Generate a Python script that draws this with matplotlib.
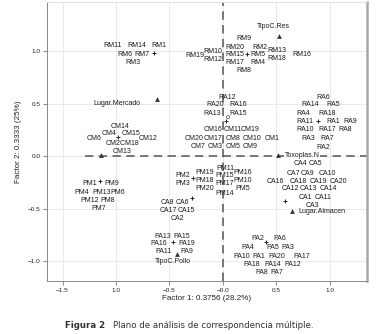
import matplotlib
matplotlib.use("Agg")
import matplotlib.pyplot as plt

# ---- category labels (text positions on factor plane) ----
rm_labels = ["RM11", "RM14", "RM1", "RM6", "RM7", "RM3",
             "RM9", "RM19", "RM10", "RM12", "RM20", "RM2", "RM15", "RM5",
             "RM13", "RM16", "RM17", "RM4", "RM18", "RM8"]
rm_x = [-1.028, -0.804, -0.598, -0.916, -0.757, -0.841,
        0.196, -0.262, -0.093, -0.093, 0.112, 0.346, 0.112, 0.327,
        0.505, 0.738, 0.112, 0.327, 0.505, 0.196]
rm_y = [1.057, 1.057, 1.057, 0.971, 0.971, 0.895,
        1.124, 0.962, 1.000, 0.924, 1.038, 1.038, 0.971, 0.971,
        1.010, 0.971, 0.895, 0.895, 0.933, 0.819]

cm_labels = ["CM14", "CM4", "CM15", "CM6", "CM2CM18", "CM12", "CM13",
             "CM16", "CM11", "CM19", "CM20", "CM17", "CM8", "CM10", "CM1",
             "CM7", "CM3", "CM5", "CM9"]
cm_x = [-0.963, -1.065, -0.860, -1.206, -0.935, -0.701, -0.944,
        -0.093, 0.093, 0.252, -0.271, -0.093, 0.093, 0.271, 0.458,
        -0.234, -0.075, 0.093, 0.252]
cm_y = [0.286, 0.219, 0.219, 0.171, 0.124, 0.171, 0.048,
        0.257, 0.257, 0.257, 0.171, 0.171, 0.171, 0.171, 0.171,
        0.095, 0.095, 0.095, 0.095]

ra_labels = ["RA12", "RA20", "RA16", "RA13", "RA15",
             "RA6", "RA14", "RA5", "RA4", "RA18", "RA11", "RA1", "RA9",
             "RA10", "RA17", "RA8", "RA3", "RA7", "RA2"]
ra_x = [0.037, -0.075, 0.140, -0.103, 0.140,
        0.935, 0.813, 1.028, 0.748, 0.972, 0.766, 1.028, 1.187,
        0.766, 0.972, 1.140, 0.794, 0.972, 0.935]
ra_y = [0.562, 0.495, 0.495, 0.410, 0.410,
        0.562, 0.495, 0.495, 0.410, 0.410, 0.333, 0.333, 0.333,
        0.257, 0.257, 0.257, 0.171, 0.171, 0.086]

pm_labels = ["PM1", "PM9", "PM4", "PM13", "PM6", "PM12", "PM8", "PM7",
             "PM2", "PM3", "PM19", "PM18", "PM20", "PM11", "PM15", "PM17",
             "PM14", "PM16", "PM10", "PM5"]
pm_x = [-1.243, -1.037, -1.318, -1.131, -0.981, -1.243, -1.075, -1.159,
        -0.374, -0.374, -0.168, -0.168, -0.168, 0.019, 0.019, 0.019,
        0.019, 0.187, 0.187, 0.187]
pm_y = [-0.257, -0.257, -0.343, -0.343, -0.343, -0.419, -0.419, -0.495,
        -0.181, -0.257, -0.152, -0.229, -0.305, -0.114, -0.181, -0.257,
        -0.352, -0.152, -0.229, -0.305]

ca_labels = ["CA8", "CA6", "CA17", "CA15", "CA2",
             "CA4", "CA5", "CA7", "CA9", "CA10", "CA16", "CA18", "CA19",
             "CA20", "CA12", "CA13", "CA14", "CA1", "CA11", "CA3"]
ca_x = [-0.523, -0.383, -0.514, -0.345, -0.430,
        0.720, 0.860, 0.654, 0.794, 0.972, 0.486, 0.701, 0.888,
        1.075, 0.626, 0.794, 0.981, 0.766, 0.935, 0.832]
ca_y = [-0.438, -0.438, -0.514, -0.514, -0.590,
        -0.067, -0.067, -0.162, -0.162, -0.162, -0.238, -0.238, -0.238,
        -0.238, -0.305, -0.305, -0.305, -0.390, -0.390, -0.467]

pa_labels = ["PA13", "PA15", "PA16", "PA19", "PA11", "PA9",
             "PA2", "PA6", "PA4", "PA5", "PA3", "PA10", "PA1", "PA20",
             "PA17", "PA18", "PA14", "PA12", "PA8", "PA7"]
pa_x = [-0.561, -0.383, -0.598, -0.336, -0.561, -0.336,
        0.327, 0.533, 0.234, 0.467, 0.607, 0.178, 0.336, 0.505,
        0.738, 0.271, 0.467, 0.654, 0.364, 0.505]
pa_y = [-0.762, -0.762, -0.829, -0.829, -0.905, -0.905,
        -0.781, -0.781, -0.867, -0.867, -0.867, -0.952, -0.952, -0.952,
        -0.952, -1.029, -1.029, -1.029, -1.105, -1.105]

# ---- group centroids ----
cen_x = [-0.645, -0.981, 0.224, 0.028, 0.888, -1.150, -0.280,
         -0.290, 0.579, -0.467, 0.402]
cen_y = [0.981, 0.181, 0.971, 0.333, 0.333, -0.238, -0.210,
         -0.400, -0.429, -0.819, -0.819]
open_x = [0.047]
open_y = [0.371]

# ---- variable categories (triangles) ----
var_labels = ["Lugar.Mercado", "TipoC.Res", "Toxoplas.N", "Lugar.Almacen", "TipoC.Pollo", ""]
var_x = [-0.617, 0.523, 0.514, 0.645, -0.430, -1.140]
var_y = [0.543, 1.143, 0.010, -0.524, -0.933, 0.010]
var_lx = [-0.990, 0.467, 0.740, 0.925, -0.467, -1.140]
var_ly = [0.505, 1.238, 0.010, -0.524, -1.000, 0.010]

xticks = [-1.5, -1.0, -0.5, 0.0, 0.5, 1.0]
xtick_labels = ["\u22121.5", "1.0", "\u22120.5", "\u22120.0", "0.5", "1.0"]
yticks = [-1.0, -0.5, 0.0, 0.5, 1.0]
ytick_labels = ["\u22121.0", "\u22120.5", "0.0", "0.5", "1.0"]

plt.rcParams['font.family'] = ['Liberation Sans', 'DejaVu Sans']
fig = plt.figure(figsize=(3.8, 3.34), dpi=100)
ax = fig.add_axes([0.1237, 0.1587, 0.842, 0.835])
ax.set_xlim(-1.645, 1.346)
ax.set_ylim(-1.190, 1.467)

ax.set_xticks(xticks)
ax.set_xticklabels(xtick_labels)
ax.set_yticks(yticks)
ax.set_yticklabels(ytick_labels)
ax.tick_params(labelsize=4.6, length=3.2, width=0.6, color='#777777',
               labelcolor='#222222', pad=1.5)
ax.grid(True, color='#e6e6e6', linewidth=0.6)
ax.set_axisbelow(True)
for s in ['left', 'bottom']:
    ax.spines[s].set_color('#888888')
    ax.spines[s].set_linewidth(0.7)
ax.spines['top'].set_color('#dddddd')
ax.spines['top'].set_linewidth(0.6)
ax.spines['right'].set_color('#a8a8a8')
ax.spines['right'].set_linewidth(1.8)

dash = (0, (5.5, 3.5))
ax.plot([0, 0], [-1.190, 1.467], color='#555555', lw=1.1, linestyle=dash, zorder=1)
ax.plot([-1.29, 1.346], [0, 0], color='#555555', lw=1.1, linestyle=dash, zorder=1)

fs = 5.0
for labs, xs, ys in [(rm_labels, rm_x, rm_y), (cm_labels, cm_x, cm_y),
                     (ra_labels, ra_x, ra_y), (pm_labels, pm_x, pm_y),
                     (ca_labels, ca_x, ca_y), (pa_labels, pa_x, pa_y)]:
    for t, x, y in zip(labs, xs, ys):
        ax.text(x, y, t, fontsize=fs, ha='center', va='center', color='#1a1a1a', zorder=3)

ax.scatter(cen_x, cen_y, marker='+', s=7, linewidths=0.7, color='#222222', zorder=4)
ax.scatter(open_x, open_y, marker='o', s=5, facecolors='none', edgecolors='#444444',
           linewidths=0.5, zorder=4)
ax.scatter(var_x, var_y, marker='^', s=12, color='#333333', linewidths=0, zorder=4)
for t, x, y in zip(var_labels, var_lx, var_ly):
    if t:
        ax.text(x, y, t, fontsize=fs, ha='center', va='center', color='#1a1a1a', zorder=3,
                bbox=dict(facecolor='white', edgecolor='none', pad=0.3) if t == "Toxoplas.N" else None)

ax.set_xlabel("Factor 1: 0.3756 (28.2%)", fontsize=5.8, color='#222222', labelpad=2)
ax.set_ylabel("Factor 2: 0.3333 (25%)", fontsize=5.8, color='#222222', labelpad=4)

fig.text(65 / 380, 1 - 326 / 334, "Figura 2", fontsize=6.2, fontweight='bold',
         family=['DejaVu Sans'], color='#333333', ha='left', va='center')
fig.text(113 / 380, 1 - 326 / 334, "Plano de análisis de correspondencia múltiple.",
         fontsize=6.2, family=['DejaVu Sans'], color='#333333', ha='left', va='center')

fig.savefig("out.png", dpi=100)
